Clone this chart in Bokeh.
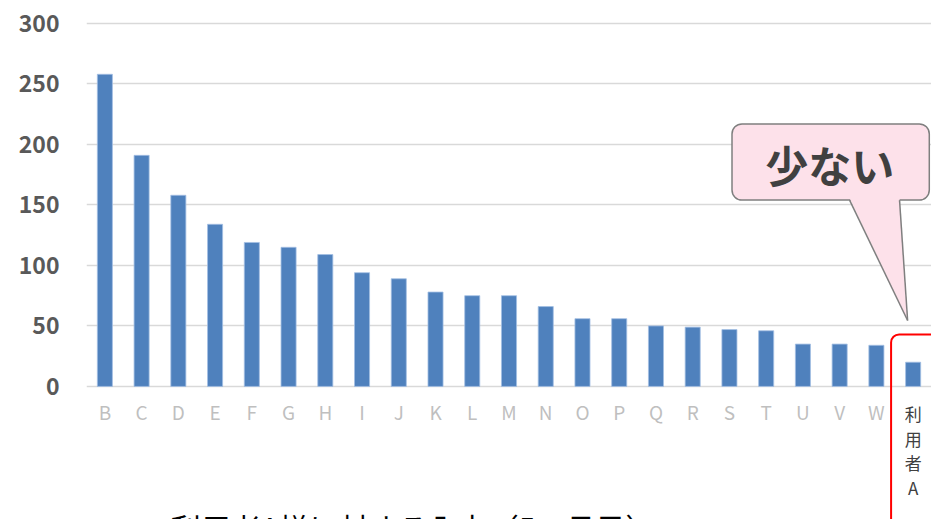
import numpy as np
from bokeh.plotting import figure
from bokeh.models import ColumnDataSource, FixedTicker, Range1d
from bokeh.core.properties import value
from bokeh.embed import file_html
from bokeh.resources import INLINE

# Input counts per user, the highlighted user last
categories = ["B", "C", "D", "E", "F", "G", "H", "I", "J", "K", "L", "M",
              "N", "O", "P", "Q", "R", "S", "T", "U", "V", "W", "利用者A"]
counts = [258, 191, 158, 134, 119, 115, 109, 94, 89, 78, 75, 75,
          66, 56, 56, 50, 49, 47, 46, 35, 35, 34, 20]
y_ticks = [0, 50, 100, 150, 200, 250, 300]
callout_text = "少ない"
caption = "利用者A様に対する入力（5ヶ月目）"

JP = "Noto Sans CJK JP"
n = len(categories)
xs = np.arange(n)

p = figure(width=931, height=519, output_backend="svg", toolbar_location=None,
           x_range=Range1d(-0.5, n - 0.5), y_range=Range1d(-110, 319),
           min_border_left=86, min_border_right=0, min_border_top=0,
           min_border_bottom=0)
p.outline_line_color = None
p.background_fill_color = "white"
p.border_fill_color = "white"
p.xaxis.visible = False
p.xgrid.visible = False

# value axis: bold dark labels, no line or ticks
yax = p.yaxis[0]
yax.ticker = FixedTicker(ticks=y_ticks)
yax.axis_line_color = None
yax.major_tick_line_color = None
yax.minor_tick_line_color = None
yax.major_tick_out = 0
yax.major_label_standoff = 27
yax.major_label_text_font = JP
yax.major_label_text_font_style = "bold"
yax.major_label_text_font_size = "23px"
yax.major_label_text_color = "#595959"
p.ygrid.ticker = FixedTicker(ticks=y_ticks)
p.ygrid.grid_line_color = "#d9d9d9"
p.ygrid.grid_line_width = 1.6

src = ColumnDataSource(dict(x=xs, top=counts, name=categories))
p.vbar(x="x", top="top", bottom=0, width=0.41, source=src,
       fill_color="#4f81bd", line_color="#a3bfe3", line_width=0.8)

# category labels under the bars
lab = ColumnDataSource(dict(x=xs[:-1], y=[0] * (n - 1), t=categories[:-1]))
p.text(x="x", y="y", text="t", source=lab, y_offset=25,
       text_align="center", text_baseline="middle",
       text_font=value(JP), text_font_size="19px", text_color="#bfbfbf")

# highlighted user's label, stacked vertically, inside a red frame
last = ColumnDataSource(dict(x=[xs[-1]], y=[0], t=["\n".join(categories[-1])]))
p.text(x="x", y="y", text="t", source=last, y_offset=15,
       text_align="center", text_baseline="top", text_line_height=0.98,
       text_font=value(JP), text_font_size="17px", text_color="#404040")
p.quad(left=xs[-1] - 0.6, right=xs[-1] + 0.7, top=43, bottom=-120,
       fill_color=None, line_color="#ff0000", line_width=2, border_radius=8)

# speech-bubble callout pointing at the highlighted bar
p.quad(left=17.07, right=22.44, top=217, bottom=154,
       fill_color="#fde1ea", line_color="#7f7f7f", line_width=1.5,
       border_radius=10)
p.patch(x=[20.27, 21.63, 21.85], y=[155.5, 155.5, 54.5],
        fill_color="#fde1ea", line_color=None)
p.multi_line(xs=[[20.27, 21.85], [21.63, 21.85]], ys=[[154, 54.5], [154, 54.5]],
             line_color="#7f7f7f", line_width=1.5)
p.text(x=[19.73], y=[184], text=[callout_text],
       text_align="center", text_baseline="middle",
       text_font=value(JP), text_font_style="bold", text_font_size="43px",
       text_color="#404040")

# caption along the bottom edge
p.text(x=[1.79], y=[-98], text=[caption], text_align="left",
       text_baseline="top", text_font=value(JP), text_font_size="30px",
       text_color="#000000")

open("out.html", "w").write(file_html(p, INLINE))
